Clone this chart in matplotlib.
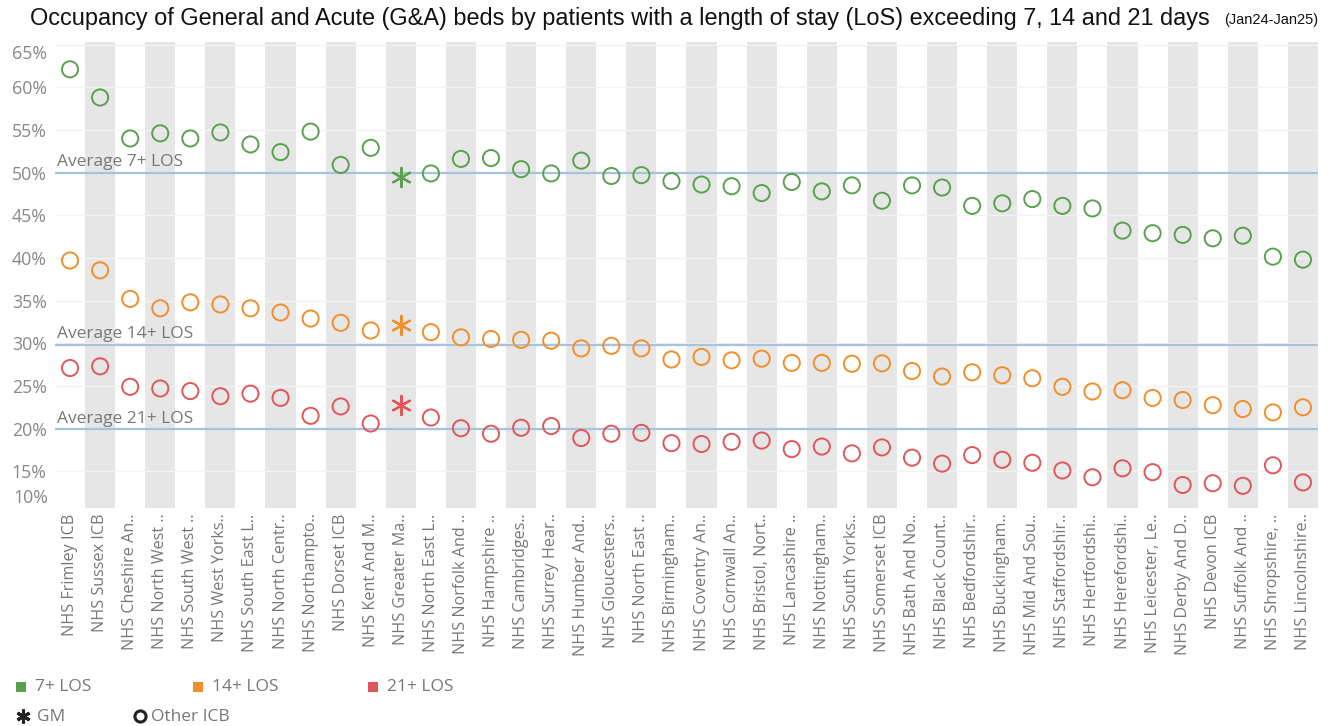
import numpy as np
import matplotlib
matplotlib.use('Agg')
import matplotlib.pyplot as plt
from matplotlib.lines import Line2D
from matplotlib.patches import Rectangle

# ICBs ordered as on the chart (labels are truncated like the original)
icbs = ['NHS Frimley ICB', 'NHS Sussex ICB', 'NHS Cheshire An..', 'NHS North West ..',
        'NHS South West ..', 'NHS West Yorks..', 'NHS South East L..', 'NHS North Centr..',
        'NHS Northampto..', 'NHS Dorset ICB', 'NHS Kent And M..', 'NHS Greater Ma..',
        'NHS North East L..', 'NHS Norfolk And ..', 'NHS Hampshire ..', 'NHS Cambridges..',
        'NHS Surrey Hear..', 'NHS Humber And..', 'NHS Gloucesters..', 'NHS North East ..',
        'NHS Birmingham..', 'NHS Coventry An..', 'NHS Cornwall An..', 'NHS Bristol, Nort..',
        'NHS Lancashire ..', 'NHS Nottingham..', 'NHS South Yorks..', 'NHS Somerset ICB',
        'NHS Bath And No..', 'NHS Black Count..', 'NHS Bedfordshir..', 'NHS Buckingham..',
        'NHS Mid And Sou..', 'NHS Staffordshir..', 'NHS Hertfordshi..', 'NHS Herefordshi..',
        'NHS Leicester, Le..', 'NHS Derby And D..', 'NHS Devon ICB', 'NHS Suffolk And ..',
        'NHS Shropshire, ..', 'NHS Lincolnshire..']
gm_label = 'NHS Greater Ma..'

# % of G&A beds occupied by patients with LoS 7+, 14+, 21+ days
los7 = [62.1, 58.8, 54.0, 54.6, 54.0, 54.7, 53.3, 52.4, 54.8, 50.9, 52.9, 49.5,
        49.9, 51.6, 51.7, 50.4, 49.9, 51.4, 49.6, 49.7, 49.0, 48.6, 48.4, 47.6,
        48.9, 47.8, 48.5, 46.7, 48.5, 48.25, 46.1, 46.4, 46.9, 46.1, 45.8, 43.2,
        42.9, 42.7, 42.3, 42.6, 40.15, 39.8]
los14 = [39.7, 38.55, 35.2, 34.1, 34.8, 34.55, 34.1, 33.6, 32.9, 32.4, 31.5, 32.1,
         31.3, 30.7, 30.5, 30.4, 30.3, 29.4, 29.7, 29.4, 28.1, 28.4, 28.0, 28.2,
         27.7, 27.7, 27.6, 27.65, 26.75, 26.1, 26.6, 26.25, 25.9, 24.9, 24.35, 24.5,
         23.6, 23.35, 22.75, 22.3, 21.9, 22.5]
los21 = [27.1, 27.3, 24.9, 24.7, 24.4, 23.8, 24.1, 23.6, 21.5, 22.6, 20.6, 22.8,
         21.3, 20.05, 19.4, 20.1, 20.3, 18.9, 19.4, 19.5, 18.3, 18.2, 18.45, 18.6,
         17.6, 17.9, 17.1, 17.8, 16.6, 15.9, 16.9, 16.35, 16.0, 15.1, 14.3, 15.35,
         14.9, 13.4, 13.6, 13.3, 15.7, 13.7]

avg7, avg14, avg21 = 50.0, 29.8, 19.9
yticks = [10, 15, 20, 25, 30, 35, 40, 45, 50, 55, 60, 65]

c7, c14, c21 = '#59a14f', '#f28e2b', '#e15759'
line_c = '#a7c2dc'
txt_c = '#777777'

W, H = 1328, 726
fig = plt.figure(figsize=(W / 100, H / 100), dpi=100)
ax = fig.add_axes([55 / W, 1 - 508 / H, 1263 / W, 466 / H])

x = np.arange(len(icbs))
gm = np.array([n == gm_label for n in icbs])

# alternating column shading
for i in x:
    if i % 2 == 1:
        ax.axvspan(i - 0.5, i + 0.5, color='#e6e6e6', lw=0, zorder=0)

for t in yticks:
    ax.axhline(t, color='#f3f3f3', lw=1, zorder=1)

for avg, name in [(avg7, 'Average 7+ LOS'), (avg14, 'Average 14+ LOS'), (avg21, 'Average 21+ LOS')]:
    ax.axhline(avg, color=line_c, lw=1.6, zorder=2)
    ax.annotate(name, (-0.45, avg), xytext=(0, 2), textcoords='offset points',
                ha='left', va='bottom', color=txt_c, fontsize=12.5, family='Open Sans', zorder=3)

for vals, col in [(los7, c7), (los14, c14), (los21, c21)]:
    v = np.array(vals)
    ax.scatter(x[~gm], v[~gm], s=135, facecolors='none', edgecolors=col, linewidths=1.4, zorder=4)
    ax.scatter(x[gm], v[gm], s=190, marker=(6, 2, 0), color=col, linewidths=1.6, zorder=4)

ax.set_xlim(-0.5, len(icbs) - 0.5)
ax.set_ylim(10.7, 65.3)
ax.set_yticks(yticks[1:])
ax.set_yticklabels([f'{t}%' for t in yticks[1:]], color='#888888', fontsize=12.8, family='Open Sans')
ax.yaxis.get_ticklabels()[-1].set_va('top')
ax.text(-0.0055, 0.022, '10%', transform=ax.transAxes, ha='right', va='center',
        color='#888888', fontsize=12.8, family='Open Sans')
ax.set_xticks(x)
ax.set_xticklabels(icbs, rotation=90, ha='center', va='top', color=txt_c, fontsize=11.6, family='Open Sans')
ax.tick_params(length=0, axis='x', pad=4)
ax.tick_params(length=0, axis='y', pad=6)
for s in ax.spines.values():
    s.set_visible(False)

# title
fig.text(30 / W, 1 - 19 / H, 'Occupancy of General and Acute (G&A) beds by patients with a length of stay (LoS) exceeding 7, 14 and 21 days',
         ha='left', va='center', fontsize=16.9, family='Liberation Sans', color='#111111')
fig.text(1318 / W, 1 - 20 / H, '(Jan24-Jan25)', ha='right', va='center', fontsize=10.5,
         family='Liberation Sans', color='#111111')

# legend
for lx, col, lab in [(16, c7, '7+ LOS'), (193, c14, '14+ LOS'), (368, c21, '21+ LOS')]:
    fig.add_artist(Rectangle((lx / W, 1 - 692 / H), 10 / W, 10 / H, transform=fig.transFigure,
                             color=col, lw=0))
    fig.text((lx + 19) / W, 1 - 687 / H, lab, ha='left', va='center', color=txt_c,
             fontsize=12.5, family='Open Sans')
fig.add_artist(Line2D([23 / W], [1 - 716 / H], marker=(6, 2, 0), ms=10, mew=2.2, color='#222222',
                      transform=fig.transFigure))
fig.text(37 / W, 1 - 717 / H, 'GM', ha='left', va='center', color=txt_c, fontsize=12.5, family='Open Sans')
fig.add_artist(Line2D([140 / W], [1 - 716 / H], marker='o', ms=8, mew=2.2, mfc='none', mec='#222222',
                      transform=fig.transFigure))
fig.text(151 / W, 1 - 717 / H, 'Other ICB', ha='left', va='center', color=txt_c, fontsize=12.5, family='Open Sans')

fig.savefig('out.png', dpi=100)
